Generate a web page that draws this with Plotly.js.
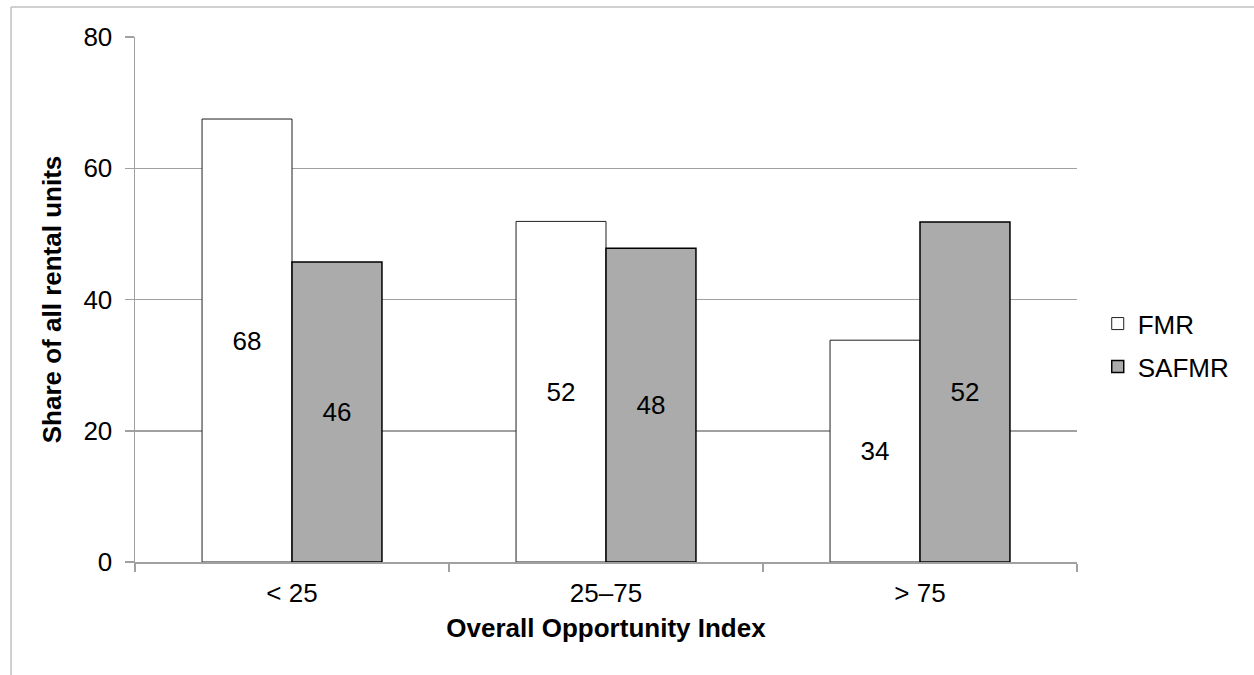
<!DOCTYPE html>
<html>
<head>
<meta charset="utf-8">
<script src="https://cdn.plot.ly/plotly-3.0.1.min.js"></script>
<style>html,body{margin:0;padding:0;background:#fff;}#chart{width:1254px;height:675px;}</style>
</head>
<body>
<div id="chart"></div>
<script>
const categories = ["< 25", "25–75", "> 75"];
const fmrValues = [67.5, 51.9, 33.8];
const safmrValues = [45.7, 47.8, 51.8];
const seriesNames = ["FMR", "SAFMR"];
const yTicks = [0, 20, 40, 60, 80];

const font = "Liberation Sans, Arial, sans-serif";
const fs = 26;

const traces = [
  {
    type: "bar", name: seriesNames[0], x: categories, y: fmrValues, legendgroup: "a",
    marker: {color: "#ffffff", line: {color: "#202020", width: 1}},
    texttemplate: "%{y:.0f}", textposition: "inside", insidetextanchor: "middle",
    textfont: {family: font, size: fs, color: "#000"}, hoverinfo: "skip"
  },
  {
    type: "bar", name: seriesNames[1], x: categories, y: safmrValues, legendgroup: "b",
    marker: {color: "#ababab", line: {color: "#000000", width: 1.5}},
    texttemplate: "%{y:.0f}", textposition: "inside", insidetextanchor: "middle",
    textfont: {family: font, size: fs, color: "#000"}, hoverinfo: "skip"
  }
];

const layout = {
  width: 1254, height: 675,
  margin: {l: 135, r: 177, t: 37, b: 113},
  paper_bgcolor: "#fff", plot_bgcolor: "#fff",
  font: {family: font, size: fs, color: "#000"},
  barmode: "group", bargap: 0.427, bargroupgap: 0,
  showlegend: true,
  legend: {x: 1.022, xanchor: "left", y: 0.413, yanchor: "middle",
           font: {family: font, size: fs, color: "#000"}, tracegroupgap: 6,
           traceorder: "grouped", bgcolor: "rgba(0,0,0,0)"},
  xaxis: {
    type: "category", tickson: "boundaries", ticks: "outside", ticklen: 8,
    tickcolor: "#a0a0a0", tickwidth: 1.5,
    showline: true, linecolor: "#a0a0a0", linewidth: 1.5,
    showgrid: false, zeroline: false,
    tickfont: {family: font, size: fs}, ticklabelstandoff: 7,
    title: {text: "<b>Overall Opportunity Index</b>", font: {family: font, size: fs}, standoff: 12}
  },
  yaxis: {
    range: [0, 80], tickvals: yTicks, ticks: "outside", ticklen: 9,
    tickcolor: "#a0a0a0", tickwidth: 1.5,
    showline: true, linecolor: "#a0a0a0", linewidth: 1.5,
    showgrid: true, gridcolor: "#a0a0a0", gridwidth: 1.5, zeroline: false,
    tickfont: {family: font, size: fs}, ticklabelstandoff: 7,
    title: {text: "<b>Share of all rental units</b>", font: {family: font, size: fs}, standoff: 14}
  },
  shapes: [
    {type: "line", xref: "paper", yref: "paper", x0: -0.1316, x1: 1.3, y0: 1.057, y1: 1.057,
     line: {color: "#c0c0c0", width: 1.5}},
    {type: "line", xref: "paper", yref: "paper", x0: -0.1316, x1: -0.1316, y0: 1.057, y1: -0.3,
     line: {color: "#c0c0c0", width: 1.5}}
  ]
};

Plotly.newPlot("chart", traces, layout, {displayModeBar: false, staticPlot: true});
</script>
</body>
</html>
